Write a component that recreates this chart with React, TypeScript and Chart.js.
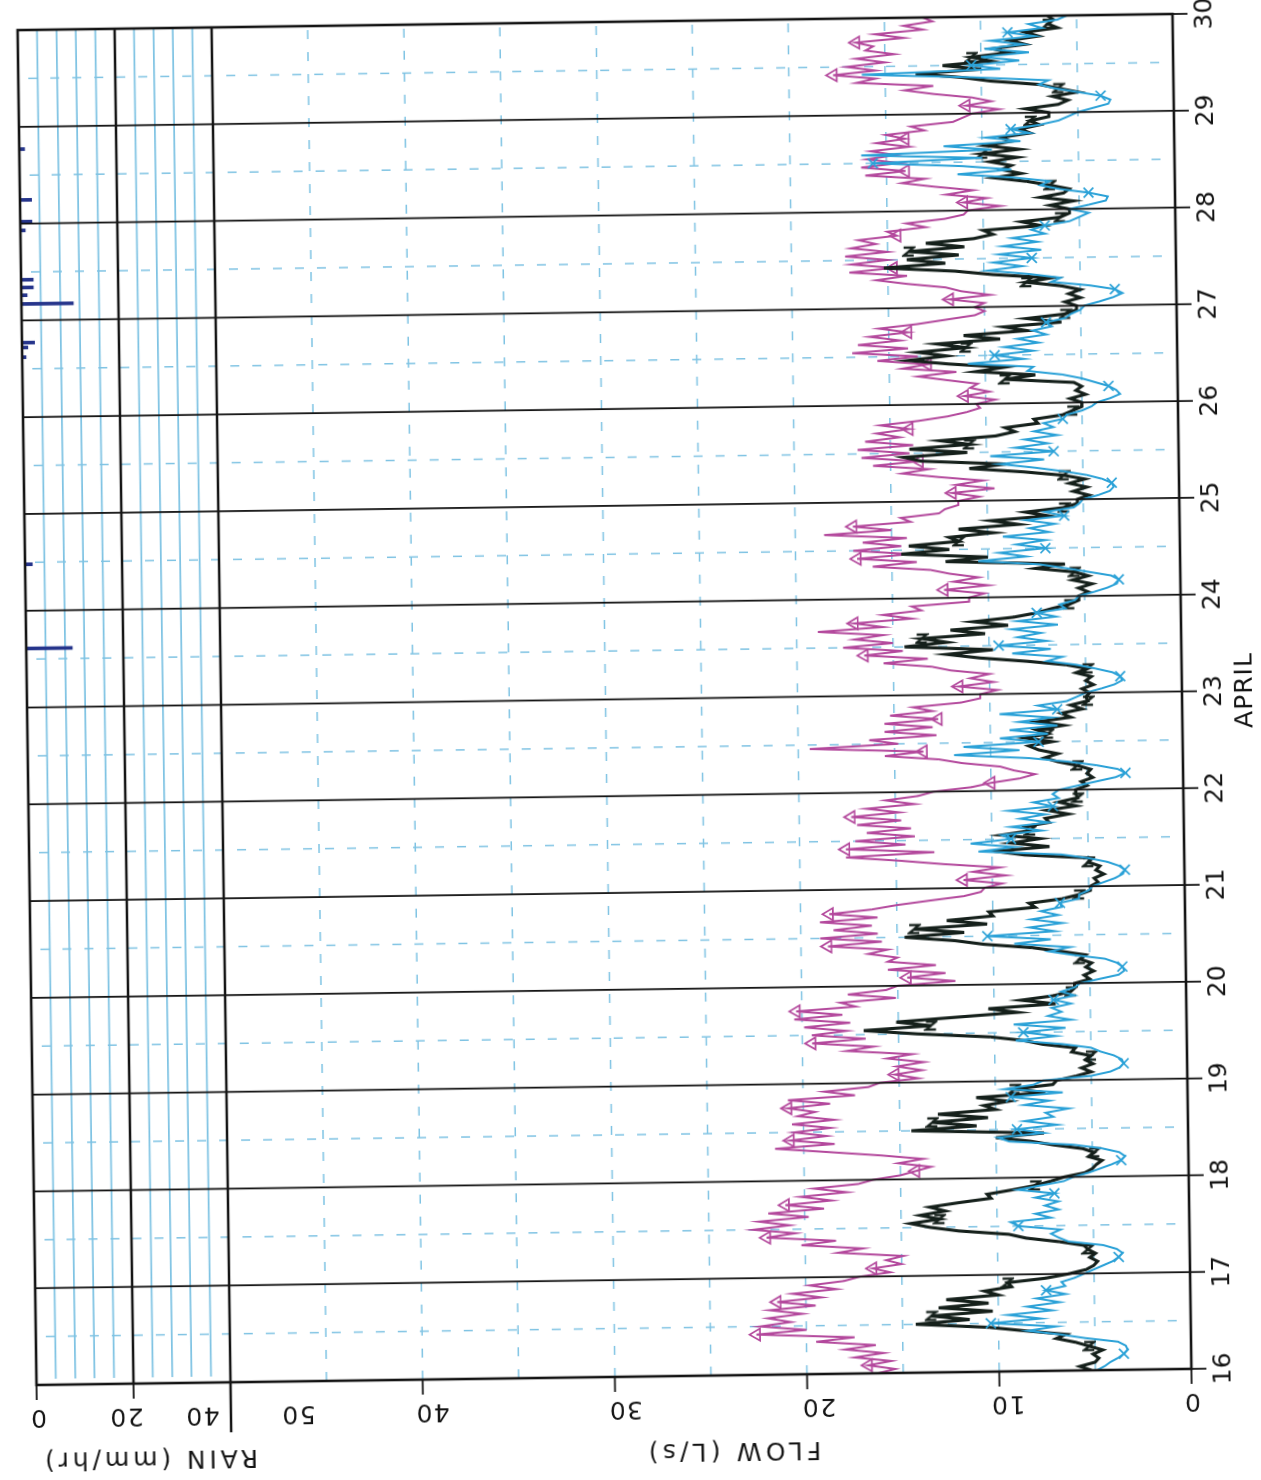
import React, { useEffect, useRef } from 'react';
import { Chart, registerables } from 'chart.js';

Chart.register(...registerables);

// ---------------- data ----------------
const START_DAY = 16;
const END_DAY = 30;
const DAYS = [16, 17, 18, 19, 20, 21, 22, 23, 24, 25, 26, 27, 28, 29, 30];
const MONTH_LABEL = 'APRIL';
const FLOW_TICKS = [0, 10, 20, 30, 40, 50];
const RAIN_TICKS = [0, 20, 40];
const FLOW_GRID = [5, 10, 15, 20, 25, 30, 35, 40, 45];
const RAIN_GRID = [4, 8, 12, 16, 24, 28, 32, 36];

// hourly flow readings (L/s), one row per day starting 00:00 April 16
const MAGENTA_FLOW = [
  16.3, 15.4, 16.8, 15.6, 17.5, 16.0, 18.0, 16.4, 19.5, 17.5, 22.6, 20.0, 22.4, 20.8, 22.0, 20.2, 21.9, 19.5, 21.5, 19.2, 20.7, 18.4, 19.8, 18.0,
  17.2, 15.6, 16.5, 15.0, 15.8, 14.9, 18.3, 17.0, 20.2, 18.4, 22.0, 20.5, 22.7, 20.8, 22.4, 19.8, 21.9, 19.0, 21.0, 18.6, 20.2, 17.8, 19.5, 17.2,
  16.4, 15.0, 14.2, 13.4, 15.1, 13.8, 16.0, 18.7, 21.5, 18.4, 20.7, 18.8, 20.5, 18.6, 20.6, 18.4, 20.3, 19.4, 20.8, 18.6, 20.8, 17.3, 18.9, 16.6,
  16.0, 14.0, 15.2, 13.8, 15.1, 13.7, 15.6, 14.3, 17.7, 16.3, 19.5, 16.7, 19.5, 17.7, 19.9, 17.5, 20.4, 17.9, 20.3, 17.2, 18.0, 15.1, 17.6, 15.6,
  15.0, 12.0, 14.5, 12.5, 15.5, 13.0, 15.5, 15.0, 16.5, 15.5, 18.6, 15.8, 19.0, 16.0, 18.3, 16.3, 19.0, 16.0, 18.5, 16.3, 15.0, 13.3, 11.5, 10.6,
  10.4, 9.5, 11.5, 9.3, 11.0, 9.6, 12.5, 14.8, 17.6, 13.0, 17.6, 14.5, 17.1, 14.0, 16.5, 14.2, 17.0, 14.7, 17.3, 14.8, 16.5, 14.0, 15.5, 13.8,
  13.0, 11.0, 10.0, 8.5, 7.7, 8.8, 9.5, 11.5, 12.7, 15.5, 13.5, 19.4, 14.8, 16.3, 12.8, 15.5, 13.0, 15.5, 12.7, 15.2, 13.0, 14.0, 11.5, 10.5,
  10.5, 9.6, 11.6, 9.8, 11.0, 10.0, 12.0, 13.0, 15.5, 13.2, 16.5, 14.5, 17.6, 15.0, 17.0, 15.5, 18.9, 15.5, 17.0, 14.0, 15.5, 13.5, 14.0, 11.0,
  11.0, 10.2, 12.3, 10.0, 11.8, 10.5, 12.0, 13.0, 16.0, 13.7, 16.8, 14.0, 17.0, 14.5, 16.5, 14.2, 18.5, 15.0, 17.0, 14.0, 14.5, 12.5, 12.2, 11.5,
  11.5, 10.4, 11.8, 9.6, 11.6, 10.2, 12.5, 14.4, 13.0, 15.9, 13.5, 16.5, 14.0, 16.7, 13.8, 16.3, 14.5, 15.7, 14.0, 15.5, 13.5, 12.0, 11.0, 10.3,
  10.5, 9.5, 11.1, 9.8, 10.8, 10.4, 12.0, 13.5, 11.5, 14.3, 13.0, 15.6, 13.5, 16.9, 14.0, 16.6, 14.4, 16.0, 14.0, 15.5, 13.5, 12.0, 10.5, 10.0,
  10.5, 10.0, 11.8, 9.7, 11.2, 12.0, 14.0, 15.6, 14.0, 17.0, 14.7, 16.9, 15.0, 17.2, 15.0, 16.9, 15.6, 16.5, 14.5, 15.0, 13.0, 14.0, 12.0, 11.0,
  10.8, 9.1, 11.0, 9.8, 11.9, 10.5, 12.5, 14.2, 13.0, 16.1, 14.0, 16.3, 14.3, 16.0, 14.5, 15.8, 13.8, 15.5, 14.0, 15.0, 13.0, 13.7, 11.5, 11.0,
  10.5, 9.1, 10.8, 9.5, 10.5, 12.5, 14.0, 12.5, 16.5, 15.5, 17.7, 15.5, 17.0, 15.0, 16.5, 14.5, 16.0, 15.6, 16.5, 14.0, 15.5, 13.0, 14.0, 12.5,
  13.0,
];

const BLACK_FLOW = [
  5.2, 5.8, 5.0, 4.8, 5.1, 4.6, 5.3, 6.0, 7.0, 6.5, 8.6, 10.5, 14.3, 11.5, 13.5, 10.3, 13.1, 10.5, 12.7, 10.0, 10.7, 9.3, 9.5, 7.5,
  6.3, 5.4, 5.0, 4.8, 5.2, 4.9, 5.3, 5.5, 6.8, 8.5, 9.4, 12.0, 13.5, 14.5, 13.0, 14.0, 12.7, 13.5, 12.0, 10.3, 10.5, 9.2, 8.0, 7.2,
  6.5, 5.4, 5.0, 4.8, 4.5, 5.2, 4.9, 5.5, 7.0, 8.2, 10.0, 7.5, 14.4, 11.0, 13.3, 10.4, 13.0, 10.0, 10.6, 9.3, 11.0, 7.4, 9.0, 7.0,
  6.8, 5.8, 5.0, 5.5, 4.9, 5.3, 5.0, 6.0, 5.8, 7.5, 8.5, 10.2, 14.0, 16.8, 13.3, 15.1, 12.0, 8.8, 10.3, 6.8, 8.6, 6.9, 6.0, 5.8,
  5.8, 5.0, 5.3, 4.8, 5.2, 4.9, 5.5, 5.2, 6.5, 8.0, 10.5, 12.0, 14.6, 11.5, 14.1, 10.3, 12.4, 10.0, 10.2, 7.8, 8.1, 6.4, 5.5, 4.9,
  4.9, 4.5, 4.7, 4.2, 4.6, 4.4, 5.0, 4.8, 8.3, 9.8, 7.0, 9.0, 7.5, 9.5, 8.0, 8.3, 7.0, 7.2, 6.0, 7.1, 5.6, 6.5, 5.5, 5.6,
  5.6, 5.0, 5.3, 4.7, 5.0, 4.8, 5.5, 6.5, 7.2, 6.5, 7.5, 8.0, 6.8, 8.2, 7.0, 7.6, 6.2, 7.5, 5.8, 6.3, 5.2, 5.8, 4.9, 5.0,
  4.8, 5.2, 4.6, 5.0, 4.7, 5.5, 4.9, 6.0, 8.0, 10.5, 12.2, 9.8, 14.4, 12.2, 13.5, 10.2, 12.0, 9.0, 10.8, 8.7, 7.5, 6.7, 5.8, 5.3,
  5.3, 4.8, 5.3, 4.6, 5.6, 4.8, 5.5, 7.5, 6.0, 12.2, 10.0, 14.5, 12.0, 14.1, 11.5, 12.0, 9.7, 11.5, 8.4, 9.8, 6.8, 8.0, 6.0, 5.3,
  5.3, 4.7, 5.5, 4.8, 5.7, 4.9, 6.0, 8.1, 10.9, 9.0, 13.4, 14.3, 11.0, 14.0, 10.9, 12.4, 9.5, 8.5, 9.0, 7.3, 7.5, 6.0, 5.5, 5.0,
  5.0, 5.6, 4.8, 5.3, 5.0, 5.4, 9.0, 7.4, 10.5, 9.0, 11.9, 14.0, 12.0, 13.5, 11.0, 12.5, 9.2, 11.1, 7.8, 9.0, 6.0, 7.8, 5.8, 5.2,
  5.2, 5.8, 5.0, 5.6, 5.0, 6.0, 7.8, 6.5, 9.5, 11.5, 15.2, 12.0, 14.0, 11.3, 13.9, 11.0, 13.0, 10.5, 9.5, 10.0, 7.0, 8.0, 6.0, 5.5,
  5.5, 6.5, 5.3, 7.0, 5.8, 5.5, 6.5, 7.7, 9.4, 8.0, 9.0, 8.5, 9.6, 8.2, 10.0, 8.1, 9.8, 8.5, 9.0, 7.5, 8.0, 7.0, 7.5, 6.5,
  6.5, 7.7, 6.0, 5.5, 6.3, 5.0, 6.0, 7.0, 9.5, 11.0, 13.4, 10.0, 12.0, 9.5, 10.5, 8.5, 9.4, 7.7, 8.5, 7.0, 7.7, 6.0, 6.5, 6.2,
  6.5,
];

const CYAN_FLOW = [
  4.9, 4.5, 4.2, 3.8, 3.5, 3.3, 3.4, 3.8, 5.5, 6.8, 8.5, 7.0, 10.4, 7.8, 9.5, 7.2, 8.5, 6.8, 8.0, 6.5, 7.5, 6.5, 6.7, 6.0,
  5.5, 5.0, 4.5, 4.0, 3.7, 3.5, 3.8, 4.5, 6.3, 6.8, 7.2, 6.7, 8.9, 9.3, 7.2, 8.0, 6.8, 7.5, 6.8, 8.0, 7.0, 8.9, 7.7, 6.5,
  6.0, 5.2, 4.6, 4.0, 3.5, 3.3, 3.6, 4.5, 6.0, 9.3, 9.9, 7.5, 8.9, 6.8, 8.5, 7.0, 7.4, 6.2, 8.5, 7.2, 9.2, 6.5, 9.5, 8.0,
  7.5, 5.0, 4.0, 3.5, 3.3, 3.4, 3.8, 4.5, 5.0, 6.5, 8.9, 6.8, 8.5, 6.3, 9.0, 6.0, 7.2, 6.5, 7.0, 6.0, 6.9, 5.8, 6.5, 5.8,
  5.5, 4.5, 3.5, 3.2, 3.3, 3.6, 4.2, 5.8, 7.1, 6.0, 8.9, 7.0, 10.3, 6.8, 8.1, 6.4, 8.0, 6.6, 7.5, 6.4, 6.5, 5.5, 5.5, 5.0,
  4.8, 4.2, 3.6, 3.2, 3.1, 3.4, 4.0, 5.0, 6.4, 10.7, 8.8, 11.1, 9.0, 9.5, 7.4, 9.0, 7.0, 8.5, 7.2, 9.1, 6.8, 7.8, 6.5, 6.8,
  6.5, 5.5, 4.5, 3.5, 3.0, 3.4, 4.5, 6.0, 8.0, 11.9, 8.5, 11.4, 7.5, 9.5, 7.0, 9.0, 6.5, 8.5, 6.8, 9.5, 6.5, 7.5, 6.0, 5.5,
  5.0, 4.2, 3.5, 3.1, 3.2, 3.6, 4.5, 5.5, 7.0, 6.2, 8.8, 6.8, 9.5, 7.0, 8.5, 7.3, 8.8, 6.4, 8.5, 6.5, 7.5, 6.0, 6.3, 5.5,
  5.3, 4.5, 3.8, 3.3, 3.2, 3.6, 4.8, 6.0, 7.3, 10.5, 8.0, 9.4, 7.0, 8.5, 7.0, 9.2, 6.8, 7.8, 6.5, 8.0, 6.0, 7.0, 5.5, 5.2,
  5.0, 4.2, 3.6, 3.4, 3.5, 4.0, 4.8, 6.0, 7.5, 9.3, 7.0, 9.8, 6.5, 8.5, 6.8, 8.0, 6.3, 7.5, 6.5, 7.0, 6.0, 5.8, 5.0, 4.5,
  4.2, 3.5, 3.0, 3.2, 3.6, 4.3, 5.0, 6.0, 7.8, 7.5, 10.9, 8.0, 9.5, 7.5, 9.0, 7.2, 8.3, 6.8, 7.5, 6.5, 6.8, 5.8, 5.5, 5.0,
  4.8, 4.0, 3.3, 2.8, 3.2, 4.5, 6.5, 6.0, 7.6, 9.8, 8.0, 9.5, 7.5, 9.2, 7.0, 9.0, 7.2, 8.5, 6.8, 7.5, 6.8, 5.5, 5.0, 4.5,
  5.5, 4.5, 3.6, 3.5, 4.5, 6.0, 7.0, 6.5, 8.4, 11.3, 8.5, 11.0, 15.7, 10.0, 16.3, 9.5, 12.0, 8.0, 9.8, 7.5, 8.5, 7.0, 6.0, 5.5,
  5.0, 4.2, 3.4, 3.3, 3.8, 5.0, 6.2, 7.0, 6.5, 10.5, 16.2, 9.0, 10.5, 8.0, 10.0, 7.5, 9.8, 7.8, 9.5, 7.2, 8.6, 6.8, 7.5, 6.0,
  5.5,
];

// rainfall spikes (day of April, mm/hr)
const RAIN_TIMES = [23.61, 24.48, 26.62, 26.72, 26.77, 27.17, 27.26, 27.34, 27.42, 27.93, 28.02, 28.245, 28.77];
const RAIN_RATE = [9.5, 1.5, 0.8, 1.2, 2.6, 10.7, 1.2, 2.5, 2.5, 1.0, 2.4, 2.4, 1.1];

// ---------------- styles ----------------
const MAGENTA = '#b3489c';
const BLACK = '#15201b';
const CYAN = '#2aa1d7';
const NAVY = '#25348b';
const GRID_BLUE = '#7fc3e3';
const INK = '#141414';
const FONT = '25px "DejaVu Sans", "Liberation Sans", sans-serif';

const toPoints = (vals: number[]) => vals.map((v, i) => ({ x: START_DAY + i / 24, y: v }));

function seg(ctx: CanvasRenderingContext2D, x1: number, y1: number, x2: number, y2: number) {
  ctx.beginPath();
  ctx.moveTo(x1, y1);
  ctx.lineTo(x2, y2);
  ctx.stroke();
}

function rotText(ctx: CanvasRenderingContext2D, text: string, cx: number, cy: number, spacing: number) {
  ctx.save();
  ctx.translate(cx, cy);
  ctx.rotate(-Math.PI / 2);
  (ctx as any).letterSpacing = spacing + 'px';
  ctx.textAlign = 'center';
  ctx.textBaseline = 'alphabetic';
  ctx.fillText(text, spacing / 2, 9);
  ctx.restore();
}

const FLOW_LABEL_SHIFT: Record<number, number> = { 0: 1, 10: 9, 20: 12, 30: 11, 40: 10, 50: 68 };
const RAIN_LABEL_SHIFT: Record<number, number> = { 0: 2, 20: -7, 40: -28 };

const plotterPlugin = {
  id: 'plotterFrame',
  beforeDatasetsDraw(chart: any) {
    const { ctx, chartArea: a, scales } = chart;
    const xs = scales.x, ys = scales.y, rs = scales.rain;
    ctx.save();
    ctx.strokeStyle = GRID_BLUE;
    ctx.lineWidth = 1.8;
    RAIN_GRID.forEach((v) => {
      const p = rs.getPixelForValue(v);
      seg(ctx, a.left + 6, p, a.right, p);
    });
    ctx.setLineDash([9, 13]);
    ctx.lineWidth = 1.5;
    FLOW_GRID.forEach((v) => {
      const p = ys.getPixelForValue(v);
      seg(ctx, a.left, p, a.right, p);
    });
    for (let d = START_DAY; d < END_DAY; d++) {
      const p = xs.getPixelForValue(d + 0.5);
      seg(ctx, p, a.top + 10, p, a.bottom);
    }
    ctx.restore();
  },
  afterDatasetsDraw(chart: any) {
    const { ctx, chartArea: a, scales } = chart;
    const xs = scales.x, ys = scales.y, rs = scales.rain;
    ctx.save();
    ctx.strokeStyle = INK;
    ctx.lineCap = 'butt';
    ctx.lineWidth = 1.8;
    DAYS.forEach((d) => {
      const p = xs.getPixelForValue(d);
      seg(ctx, p, a.top, p, a.bottom + 15);
    });
    ctx.lineWidth = 2.3;
    const r20 = rs.getPixelForValue(20);
    seg(ctx, a.left, r20, a.right, r20);
    ctx.lineWidth = 2.6;
    const r40 = rs.getPixelForValue(40);
    seg(ctx, a.left - 50, r40, a.right, r40);
    ctx.strokeRect(a.left, a.top, a.right - a.left, a.bottom - a.top);
    ctx.lineWidth = 1.8;
    FLOW_TICKS.filter((v) => v < 50).forEach((v) => {
      const p = ys.getPixelForValue(v);
      seg(ctx, a.left - 15, p, a.left, p);
    });
    RAIN_TICKS.filter((v) => v < 40).forEach((v) => {
      const p = rs.getPixelForValue(v);
      seg(ctx, a.left - 15, p, a.left, p);
    });

    // text
    ctx.fillStyle = INK;
    ctx.font = FONT;
    ctx.textAlign = 'center';
    ctx.textBaseline = 'alphabetic';
    (ctx as any).letterSpacing = '0px';
    DAYS.forEach((d) => {
      ctx.fillText(String(d), xs.getPixelForValue(d), a.bottom + 39);
    });
    (ctx as any).letterSpacing = '1px';
    ctx.fillText(MONTH_LABEL, xs.getPixelForValue((START_DAY + END_DAY) / 2) + 0.5, a.bottom + 70);

    FLOW_TICKS.forEach((v) => {
      rotText(ctx, String(v), a.left - 34, ys.getPixelForValue(v) + FLOW_LABEL_SHIFT[v], 1.5);
    });
    RAIN_TICKS.forEach((v) => {
      rotText(ctx, String(v), a.left - 34, rs.getPixelForValue(v) + RAIN_LABEL_SHIFT[v], 1.5);
    });
    rotText(ctx, 'FLOW (L/s)', a.left - 77, ys.getPixelForValue(25) + 23, 4.2);
    rotText(ctx, 'RAIN (mm/hr)', a.left - 77, rs.getPixelForValue(20) + 17, 3.9);
    ctx.restore();
  },
};

function makeZMarker(color: string) {
  const c = document.createElement('canvas');
  c.width = 14;
  c.height = 14;
  const g = c.getContext('2d')!;
  g.strokeStyle = color;
  g.lineWidth = 2.4;
  g.beginPath();
  g.moveTo(3, 12);
  g.lineTo(3, 2);
  g.lineTo(11, 12);
  g.lineTo(11, 2);
  g.stroke();
  return c;
}

export default function App() {
  const ref = useRef<HTMLCanvasElement>(null);

  useEffect(() => {
    const canvas = ref.current;
    if (!canvas) return;
    const zMarker = makeZMarker(BLACK);
    const chart = new Chart(canvas, {
      type: 'line',
      data: {
        datasets: [
          {
            type: 'line',
            label: 'cyan',
            data: toPoints(CYAN_FLOW),
            yAxisID: 'y',
            borderColor: CYAN,
            borderWidth: 2,
            pointStyle: 'crossRot',
            pointRadius: (c: any) => (c.dataIndex % 8 === 4 ? 7 : 0),
            pointBorderColor: CYAN,
            pointBorderWidth: 1.7,
            pointBackgroundColor: 'rgba(0,0,0,0)',
            tension: 0,
          } as any,
          {
            type: 'line',
            label: 'black',
            data: toPoints(BLACK_FLOW),
            yAxisID: 'y',
            borderColor: BLACK,
            borderWidth: 3.1,
            pointStyle: zMarker,
            pointRadius: (c: any) => (c.dataIndex % 8 === 6 ? 7 : 0),
            tension: 0,
          } as any,
          {
            type: 'line',
            label: 'magenta',
            data: toPoints(MAGENTA_FLOW),
            yAxisID: 'y',
            borderColor: MAGENTA,
            borderWidth: 2,
            pointStyle: 'triangle',
            pointRadius: (c: any) => (c.dataIndex % 8 === 2 ? 7 : 0),
            pointBorderColor: MAGENTA,
            pointBorderWidth: 1.7,
            pointBackgroundColor: 'rgba(0,0,0,0)',
            tension: 0,
          } as any,
          {
            type: 'bar',
            label: 'rain',
            data: RAIN_TIMES.map((t, i) => ({ x: t, y: RAIN_RATE[i] })),
            yAxisID: 'rain',
            backgroundColor: NAVY,
            barThickness: 3,
            grouped: false,
          } as any,
        ],
      },
      options: {
        responsive: false,
        animation: false,
        devicePixelRatio: 1,
        layout: { padding: { top: 90, right: 110, left: 0, bottom: 0 } },
        plugins: { legend: { display: false }, tooltip: { enabled: false } },
        scales: {
          y: {
            type: 'linear',
            position: 'left',
            stack: 'left',
            stackWeight: 961,
            min: 0,
            max: 50,
            grid: { display: false, drawTicks: false },
            border: { display: false },
            ticks: { display: false },
            afterFit: (s: any) => { s.width = 110; },
          },
          rain: {
            type: 'linear',
            position: 'left',
            stack: 'left',
            stackWeight: 194,
            min: 0,
            max: 40,
            reverse: true,
            grid: { display: false, drawTicks: false },
            border: { display: false },
            ticks: { display: false },
            afterFit: (s: any) => { s.width = 110; },
          },
          x: {
            type: 'linear',
            position: 'bottom',
            min: START_DAY,
            max: END_DAY,
            offset: false,
            grid: { display: false, drawTicks: false, offset: false },
            border: { display: false },
            ticks: { display: false },
            afterFit: (s: any) => { s.height = 90; },
          },
        } as any,
      },
      plugins: [plotterPlugin],
    } as any);
    return () => chart.destroy();
  }, []);

  return (
    <div
      style={{
        position: 'absolute',
        left: 0,
        top: 0,
        width: 1261,
        height: 1480,
        overflow: 'hidden',
        background: '#ffffff',
      }}
    >
      <canvas
        ref={ref}
        width={1575}
        height={1335}
        style={{
          position: 'absolute',
          left: -183,
          top: 32,
          width: 1575,
          height: 1335,
          transform: 'rotate(-90.8deg)',
          transformOrigin: '50% 50%',
        }}
      />
    </div>
  );
}
